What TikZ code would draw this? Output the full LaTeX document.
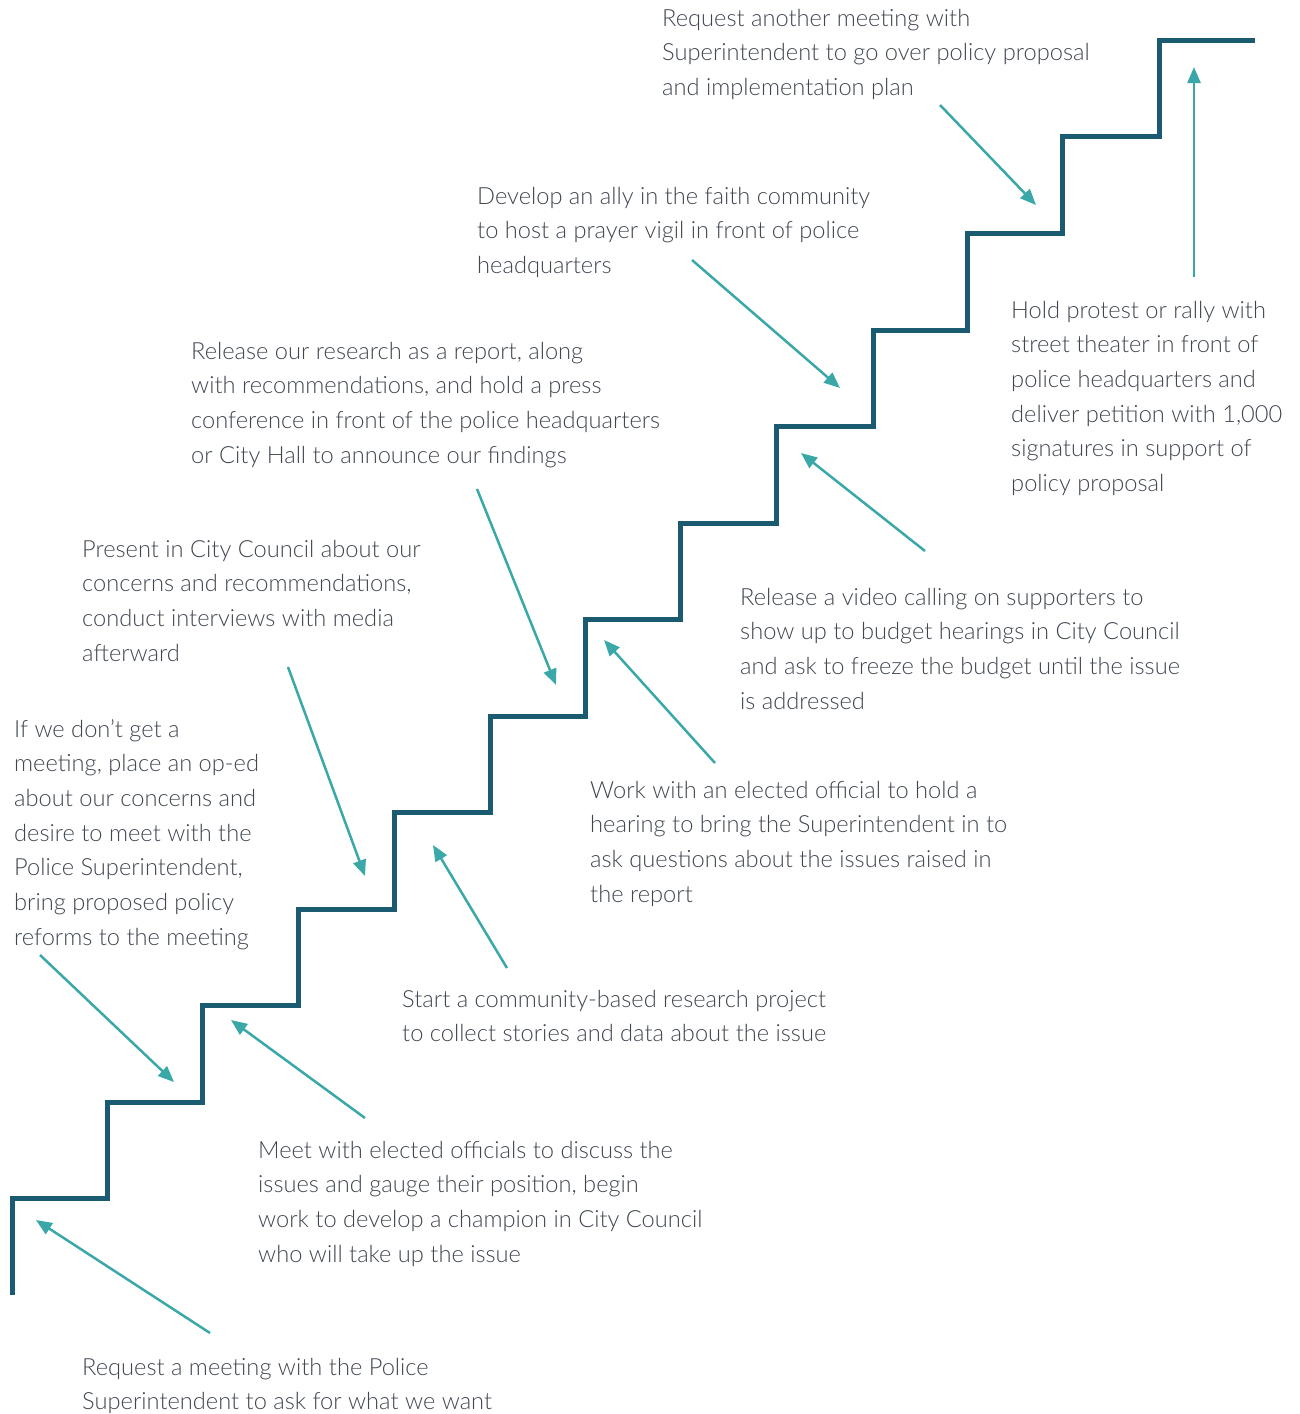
\documentclass[tikz,border=0pt]{standalone}
\usepackage{fontspec}
\IfFontExistsTF{Lato Light}{\setmainfont{Lato Light}}{\setmainfont{Lato}}
\usetikzlibrary{arrows.meta}
\definecolor{stair}{HTML}{1A5B72}
\definecolor{arr}{HTML}{3AA8A8}
\definecolor{txt}{HTML}{3F4650}
\begin{document}
\begin{tikzpicture}[x=1pt,y=-1pt,
  lbl/.style={anchor=base west,align=left,inner sep=0pt,text=txt,font=\fontsize{23.65}{34.7}\selectfont},
  pointer/.style={draw=arr,line width=2.5pt,-{Triangle[length=16pt,width=13pt]}},
  stairline/.style={draw=stair,line width=5pt,line join=miter}]
\useasboundingbox (0,0) rectangle (1299,1414);
% staircase
\draw[stairline] (12,1295) -- (12,1198) -- (107,1198) -- (107,1102) -- (202,1102) -- (202,1005)
  -- (298,1005) -- (298,909) -- (394,909) -- (394,812) -- (490,812) -- (490,716)
  -- (585,716) -- (585,619) -- (680,619) -- (680,523) -- (776,523) -- (776,426)
  -- (873,426) -- (873,330) -- (967,330) -- (967,233) -- (1062,233) -- (1062,136)
  -- (1159,136) -- (1159,40) -- (1255,40);
% labels (anchored at the baseline of their last line)
\node[lbl] (A) at (82,1409.7) {Request a meeting with the Police\\Superintendent to ask for what we want};
\node[lbl] (B) at (258,1262.1) {Meet with elected officials to discuss the\\issues and gauge their position, begin\\work to develop a champion in City Council\\who will take up the issue};
\node[lbl] (C) at (14,945.2) {If we don’t get a\\meeting, place an op-ed\\about our concerns and\\desire to meet with the\\Police Superintendent,\\bring proposed policy\\reforms to the meeting};
\node[lbl] (D) at (402,1041.7) {Start a community-based research project\\to collect stories and data about the issue};
\node[lbl] (E) at (82,661.1) {Present in City Council about our\\concerns and recommendations,\\conduct interviews with media\\afterward};
\node[lbl] (F) at (590,902.1) {Work with an elected official to hold a\\hearing to bring the Superintendent in to\\ask questions about the issues raised in\\the report};
\node[lbl] (G) at (191,463.1) {Release our research as a report, along\\with recommendations, and hold a press\\conference in front of the police headquarters\\or City Hall to announce our findings};
\node[lbl] (H) at (740,709.1) {Release a video calling on supporters to\\show up to budget hearings in City Council\\and ask to freeze the budget until the issue\\is addressed};
\node[lbl] (I) at (477,273.4) {Develop an ally in the faith community\\to host a prayer vigil in front of police\\headquarters};
\node[lbl] (J) at (1011,491.5) {Hold protest or rally with\\street theater in front of\\police headquarters and\\deliver petition with 1,000\\signatures in support of\\policy proposal};
\node[lbl] (K) at (662,95.4) {Request another meeting with\\Superintendent to go over policy proposal\\and implementation plan};
% arrow endpoints
\coordinate (a1) at (210,1333); \coordinate (a2) at (36,1220);
\coordinate (b1) at (365,1118); \coordinate (b2) at (231,1020);
\coordinate (c1) at (40,955);   \coordinate (c2) at (174,1082);
\coordinate (d1) at (507,968);  \coordinate (d2) at (433,845);
\coordinate (e1) at (288,667);  \coordinate (e2) at (365,876);
\coordinate (f1) at (715,763);  \coordinate (f2) at (604,640);
\coordinate (g1) at (477,489);  \coordinate (g2) at (556,685);
\coordinate (h1) at (925,551);  \coordinate (h2) at (801,453);
\coordinate (i1) at (692,260);  \coordinate (i2) at (840,388);
\coordinate (j1) at (1194,277); \coordinate (j2) at (1194,67);
\coordinate (k1) at (940,105);  \coordinate (k2) at (1036,205);
\foreach \s in {a,b,c,d,e,f,g,h,i,j,k} {\draw[pointer] (\s1) -- (\s2);}
\end{tikzpicture}
\end{document}
